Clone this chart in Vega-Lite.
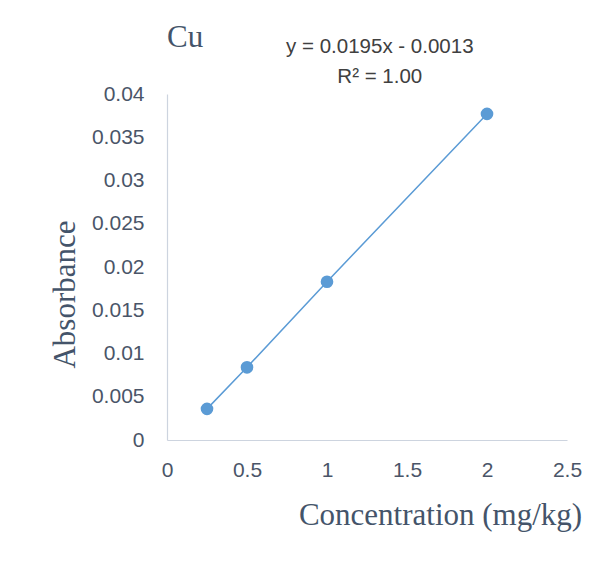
{
  "$schema": "https://vega.github.io/schema/vega-lite/v6.json",
  "width": 400,
  "height": 346,
  "autosize": {"type": "none"},
  "padding": {"left": 167, "top": 94, "right": 46, "bottom": 123},
  "background": "white",
  "config": {"view": {"stroke": null}},
  "data": {"values": [
    {"concentration": 0.25, "absorbance": 0.0036},
    {"concentration": 0.5, "absorbance": 0.0084},
    {"concentration": 1.0, "absorbance": 0.0183},
    {"concentration": 2.0, "absorbance": 0.0377}
  ]},
  "encoding": {
    "x": {
      "field": "concentration", "type": "quantitative",
      "scale": {"domain": [0, 2.5], "nice": false, "zero": false},
      "axis": {
        "values": [0, 0.5, 1, 1.5, 2, 2.5], "format": "~g",
        "grid": false, "ticks": false, "labelFlush": false,
        "domainColor": "#cdd4df", "domainWidth": 1.2,
        "labelFont": "Liberation Sans", "labelFontSize": 21, "labelColor": "#4a5568",
        "labelPadding": 19,
        "title": "Concentration (mg/kg)",
        "titleFont": "Liberation Serif", "titleFontSize": 31, "titleFontWeight": "normal",
        "titleColor": "#44546a", "titleX": 273, "titleY": 75,
        "titleAlign": "center", "titleBaseline": "middle"
      }
    },
    "y": {
      "field": "absorbance", "type": "quantitative",
      "scale": {"domain": [0, 0.04], "nice": false, "zero": false},
      "axis": {
        "values": [0, 0.005, 0.01, 0.015, 0.02, 0.025, 0.03, 0.035, 0.04], "format": "~g",
        "grid": false, "ticks": false, "labelFlush": false,
        "domainColor": "#cdd4df", "domainWidth": 1.2,
        "labelFont": "Liberation Sans", "labelFontSize": 21, "labelColor": "#4a5568",
        "labelPadding": 23,
        "title": "Absorbance",
        "titleFont": "Liberation Serif", "titleFontSize": 31, "titleFontWeight": "normal",
        "titleColor": "#44546a", "titleX": -102, "titleY": 200,
        "titleAngle": -90, "titleAlign": "center", "titleBaseline": "middle"
      }
    }
  },
  "layer": [
    {"mark": {"type": "line", "color": "#5b9bd5", "strokeWidth": 1.5}},
    {"mark": {"type": "circle", "color": "#5b9bd5", "opacity": 1, "size": 160}},
    {
      "transform": [{"filter": "datum.concentration == 2"}],
      "mark": {"type": "text", "font": "Liberation Serif", "fontSize": 31, "fontWeight": "normal", "color": "#44546a", "align": "left", "baseline": "alphabetic"},
      "encoding": {"x": {"datum": 0}, "y": {"datum": 0.04543}, "text": {"value": "Cu"}}
    },
    {
      "transform": [{"filter": "datum.concentration == 2"}],
      "mark": {"type": "text", "font": "Liberation Sans", "fontSize": 20.5, "fontWeight": "normal", "color": "#404040", "align": "center", "baseline": "middle", "lineHeight": 30},
      "encoding": {"x": {"datum": 1.33}, "y": {"datum": 0.04543}, "text": {"value": ["y = 0.0195x - 0.0013", "R² = 1.00"]}}
    }
  ]
}
